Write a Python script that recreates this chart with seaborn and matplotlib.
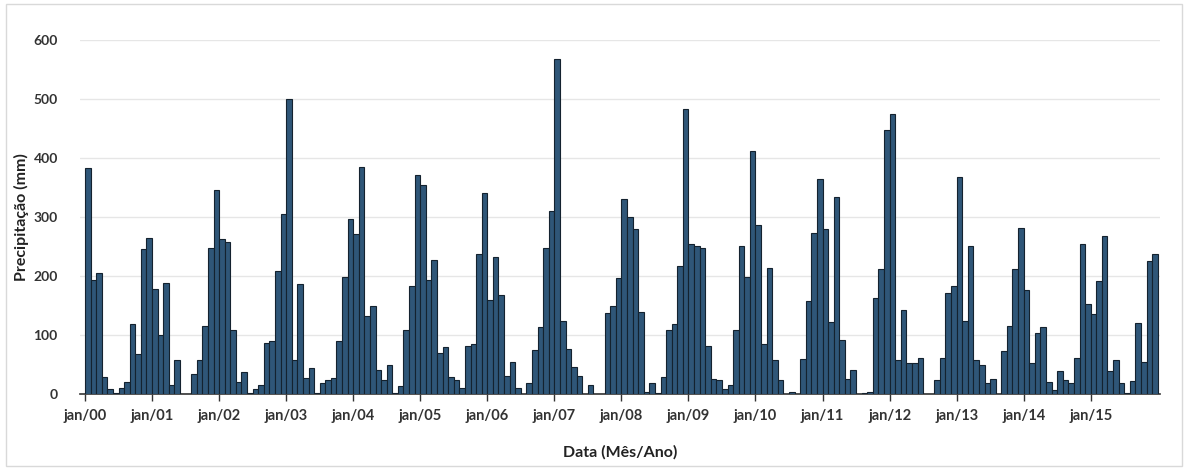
import numpy as np
import pandas as pd
import matplotlib
matplotlib.use("Agg")
import matplotlib.pyplot as plt
import matplotlib.transforms as mtransforms
import seaborn as sns

# Monthly precipitation (mm), Jan/2000 .. Dec/2015
p2000 = [383, 193, 205, 28, 8, 2, 10, 20, 118, 67, 246, 265]
p2001 = [178, 100, 188, 15, 58, 0, 0, 34, 58, 115, 248, 346]
p2002 = [263, 257, 108, 21, 37, 1, 8, 15, 86, 89, 209, 305]
p2003 = [500, 57, 186, 27, 44, 1, 19, 24, 27, 90, 199, 297]
p2004 = [271, 385, 133, 149, 41, 23, 50, 1, 13, 108, 183, 372]
p2005 = [355, 193, 227, 70, 79, 29, 23, 11, 82, 84, 238, 340]
p2006 = [159, 232, 167, 30, 54, 10, 0, 18, 75, 113, 248, 311]
p2007 = [567, 124, 77, 46, 30, 0, 15, 0, 0, 138, 149, 197]
p2008 = [331, 300, 280, 139, 4, 19, 2, 29, 108, 118, 217, 483]
p2009 = [254, 250, 247, 81, 26, 23, 9, 15, 109, 250, 199, 412]
p2010 = [287, 85, 213, 58, 24, 0, 4, 0, 60, 158, 273, 365]
p2011 = [280, 122, 334, 91, 26, 41, 0, 2, 3, 163, 212, 448]
p2012 = [475, 58, 142, 53, 53, 61, 0, 0, 24, 61, 172, 183]
p2013 = [367, 124, 250, 58, 50, 19, 26, 0, 73, 115, 212, 282]
p2014 = [176, 53, 104, 113, 20, 7, 39, 24, 19, 61, 254, 152]
p2015 = [135, 192, 267, 39, 58, 19, 2, 22, 121, 54, 226, 237]

years = ["00", "01", "02", "03", "04", "05", "06", "07",
         "08", "09", "10", "11", "12", "13", "14", "15"]
tick_labels = ["jan/" + y for y in years]

series = [p2000, p2001, p2002, p2003, p2004, p2005, p2006, p2007,
          p2008, p2009, p2010, p2011, p2012, p2013, p2014, p2015]
values = [v for yr in series for v in yr]
df = pd.DataFrame({"mes": np.arange(len(values)), "precip": values})

sns.set_theme(style="white")
plt.rcParams["font.family"] = ["Lato", "DejaVu Sans"]

fig = plt.figure(figsize=(11.9, 4.7), dpi=100)
ax = fig.add_axes([80 / 1190, 1 - 394 / 470, (1160 - 80) / 1190, (394 - 40) / 470])

sns.barplot(data=df, x="mes", y="precip", color="#2f5678", saturation=1,
            width=1.0, edgecolor="#14222f", linewidth=0.8, ax=ax, zorder=3)

ax.set_ylim(0, 600)
ax.set_xlim(-1.4, len(values) - 0.1)
ax.set_yticks(np.arange(0, 601, 100))
ax.set_yticklabels([str(v) for v in range(0, 601, 100)], fontsize=10,
                   fontweight="bold", color="#333333")
ax.set_xticks([12 * i - 0.5 for i in range(len(tick_labels))])
ax.set_xticklabels(tick_labels, fontsize=10.5, fontweight="bold", color="#333333")
first = ax.get_xticklabels()[0]
first.set_transform(first.get_transform() +
                    mtransforms.ScaledTranslation(14 / 100, 0, fig.dpi_scale_trans))
ax.tick_params(axis="x", bottom=True, length=5, width=1, color="#333333",
               direction="out", pad=6)
ax.tick_params(axis="y", left=False, length=0, pad=16)

ax.grid(axis="y", color="#e6e6e6", linewidth=1, zorder=0)
ax.set_axisbelow(True)
for s in ["top", "right", "left"]:
    ax.spines[s].set_visible(False)
ax.spines["bottom"].set_color("#333333")
ax.spines["bottom"].set_linewidth(1.2)

ax.set_ylabel("Precipitação (mm)", fontsize=11.5, fontweight="bold", color="#222222", labelpad=3)
ax.set_xlabel("Data (Mês/Ano)", fontsize=11.5, fontweight="bold", color="#222222", labelpad=16)

# light outer frame
fig.patches.append(plt.Rectangle((6 / 1190, 4 / 470), 1176 / 1190, 462 / 470,
                                 transform=fig.transFigure, fill=False,
                                 edgecolor="#d9d9d9", linewidth=1))

fig.savefig("out.png", dpi=100)
